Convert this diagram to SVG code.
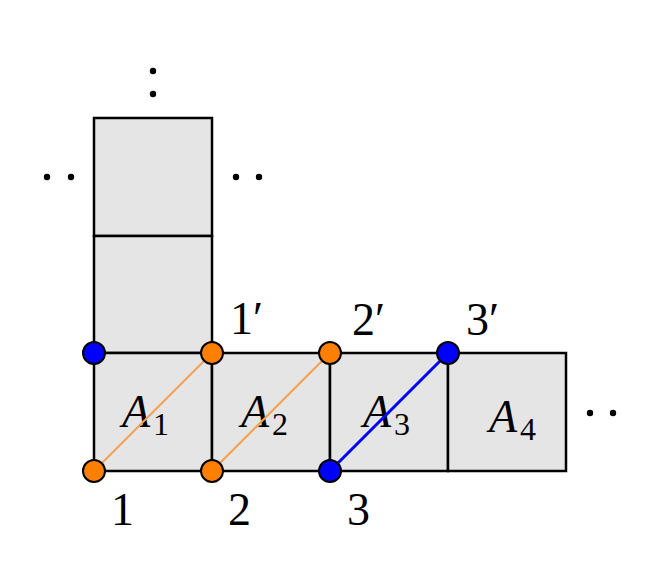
<svg xmlns="http://www.w3.org/2000/svg" width="649" height="564" viewBox="0 0 649 564">
<style>
.cell{fill:#e5e5e5;stroke:#000;stroke-width:2.5}
.lab{font-family:"Liberation Serif","DejaVu Serif",serif;font-size:46px;fill:#000}
.it{font-style:italic}
.sub{font-size:32px;font-style:normal}
.orn{fill:#ff8000;stroke:#000;stroke-width:2}
.blu{fill:#0000ff;stroke:#000;stroke-width:2}
.dot{fill:#000}
</style>
<g id="cells">
<rect class="cell" x="94" y="118" width="118" height="118"/>
<rect class="cell" x="94" y="236" width="118" height="117"/>
<rect class="cell" x="94" y="353" width="118" height="118"/>
<rect class="cell" x="212" y="353" width="118" height="118"/>
<rect class="cell" x="330" y="353" width="118" height="118"/>
<rect class="cell" x="448" y="353" width="118" height="118"/>
</g>
<g id="ellipsis">
<circle class="dot" cx="153" cy="71" r="3.2"/>
<circle class="dot" cx="153" cy="94" r="3.2"/>
<circle class="dot" cx="47" cy="177" r="3.2"/>
<circle class="dot" cx="71" cy="177" r="3.2"/>
<circle class="dot" cx="236" cy="177" r="3.2"/>
<circle class="dot" cx="259" cy="177" r="3.2"/>
<circle class="dot" cx="590" cy="413" r="3.2"/>
<circle class="dot" cx="613" cy="413" r="3.2"/>
</g>
<g id="area-labels" class="lab">
<text x="122" y="427" class="it">A<tspan class="sub" dx="3" dy="8">1</tspan></text>
<text x="241" y="427" class="it">A<tspan class="sub" dx="3" dy="8">2</tspan></text>
<text x="363" y="427" class="it">A<tspan class="sub" dx="3" dy="8">3</tspan></text>
<text x="489" y="432" class="it">A<tspan class="sub" dx="3" dy="8">4</tspan></text>
</g>
<g id="connectors">
<line x1="94" y1="471" x2="212" y2="353" stroke="#f4a050" stroke-width="2"/>
<line x1="212" y1="471" x2="330" y2="353" stroke="#f4a050" stroke-width="2"/>
<line x1="330" y1="471" x2="448" y2="353" stroke="#0000ff" stroke-width="3"/>
</g>
<g id="node-top0"><circle class="blu" cx="94" cy="353" r="11"/></g>
<g id="node-1p"><circle class="orn" cx="212" cy="353" r="11"/><text class="lab" x="230" y="334">1′</text></g>
<g id="node-2p"><circle class="orn" cx="330" cy="353" r="11"/><text class="lab" x="352" y="335">2′</text></g>
<g id="node-3p"><circle class="blu" cx="448" cy="353" r="11"/><text class="lab" x="466" y="335">3′</text></g>
<g id="node-1"><circle class="orn" cx="94" cy="471" r="11"/><text class="lab" x="111" y="525">1</text></g>
<g id="node-2"><circle class="orn" cx="212" cy="471" r="11"/><text class="lab" x="228" y="525">2</text></g>
<g id="node-3"><circle class="blu" cx="330" cy="471" r="11"/><text class="lab" x="347" y="525">3</text></g>
</svg>
